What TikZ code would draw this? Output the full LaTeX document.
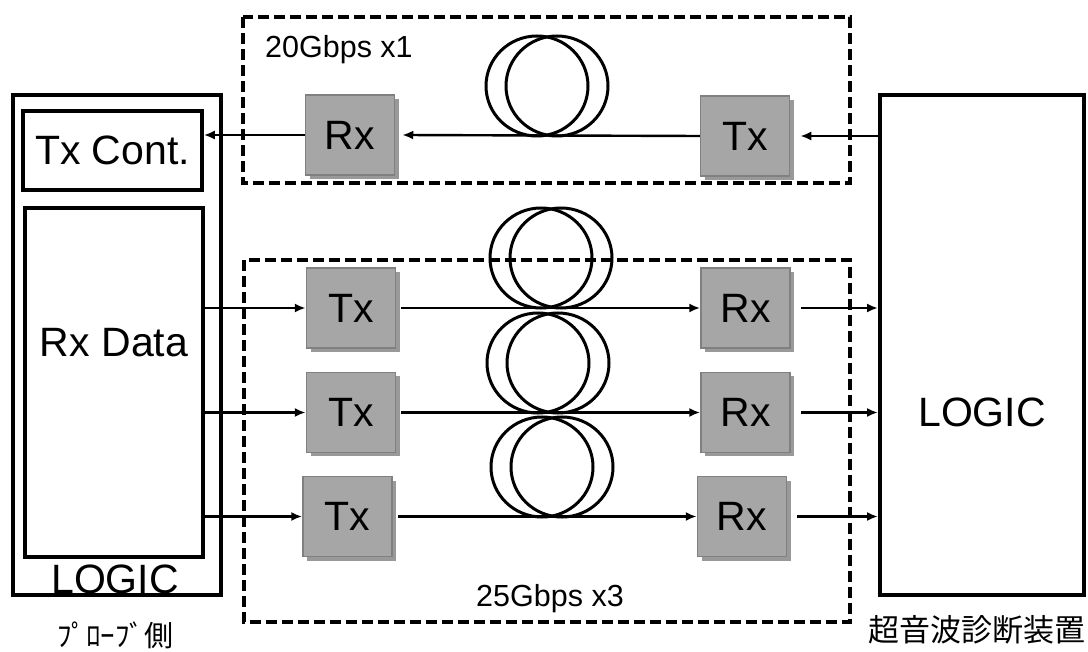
\documentclass[tikz,border=0pt]{standalone}
\usepackage{fontspec}
\setmainfont{Liberation Sans}
\newfontfamily\jpfont{Noto Sans CJK JP}
\usetikzlibrary{arrows.meta,shadows}
\definecolor{modgray}{RGB}{166,166,166}
\definecolor{modedge}{RGB}{128,128,128}
\tikzset{
  blockframe/.style={draw=black,line width=4pt,inner sep=0pt},
  groupframe/.style={draw=black,line width=3.5pt,dash pattern=on 11pt off 5pt},
  biglabel/.style={font=\fontsize{41}{41}\selectfont,inner sep=0pt},
  ratelabel/.style={font=\fontsize{30.5}{30.5}\selectfont,inner sep=0pt},
  trx/.style={fill=modgray,draw=modedge,line width=1.5pt,minimum width=89pt,
    minimum height=80pt,biglabel,
    drop shadow={shadow xshift=4pt,shadow yshift=-4pt,fill=black!40,opacity=1}},
  link/.style={line width=2.4pt,-{Latex[length=11pt,width=9pt]}},
  coil/.style={line width=3pt},
}
\begin{document}
\begin{tikzpicture}[x=1pt,y=-1pt]
  \useasboundingbox (0,0) rectangle (1088,652);
  % link groups
  \draw[groupframe] (243,17) rectangle (850,183);
  \draw[groupframe] (244,260) rectangle (850,622);
  \node[ratelabel,anchor=base west] (rateup) at (265,58) {20Gbps x1};
  \node[ratelabel,anchor=base] (ratedown) at (550,606) {25Gbps x3};
  % fiber coils
  \foreach \cx/\cy in {537/86,541/258,538/363,542/467} {
    \draw[coil] (\cx,\cy) ellipse [x radius=51pt,y radius=50pt];
    \draw[coil] (\cx+20,\cy) ellipse [x radius=51pt,y radius=50pt];
  }
  % probe side
  \node[blockframe,minimum width=208pt,minimum height=500pt] (probe) at (117,345) {};
  \node[blockframe,line width=3.5pt,minimum width=179pt,minimum height=79pt,biglabel] (txcont) at (112.5,150.5) {Tx Cont.};
  \node[blockframe,line width=3.5pt,minimum width=178pt,minimum height=349pt] (rxdata) at (114,382.5) {};
  \node[biglabel] (rxdatatext) at (114,343) {Rx Data};
  \node[biglabel,anchor=base] (probelogic) at (115,593) {LOGIC};
  \node[font=\jpfont\fontsize{29}{29}\selectfont,inner sep=0pt] (probename) at (115,635) {ﾌﾟﾛｰﾌﾞ側};
  % main unit
  \node[blockframe,minimum width=204pt,minimum height=500pt] (unit) at (982,345) {};
  \node[biglabel] (unitlogic) at (982,412) {LOGIC};
  \node[font=\jpfont\fontsize{31}{31}\selectfont,inner sep=0pt] (unitname) at (977,630) {超音波診断装置};
  % optical modules
  \node[trx] (rxup) at (350,135) {Rx};
  \node[trx] (txup) at (745,136) {Tx};
  \foreach \n/\tpos/\rpos/\ypos in {1/351/745.5/308,2/351/745.5/412.5,3/347.5/742/516.5} {
    \node[trx] (tx\n) at (\tpos,\ypos) {Tx};
    \node[trx] (rx\n) at (\rpos,\ypos) {Rx};
  }
  % links
  \draw[link] (unit.west |- txup.east) -- ([xshift=10pt]txup.east);
  \draw[link] (txup.west) -- ([xshift=7pt]rxup.east);
  \draw[link] (rxup.west) -- (txcont.east |- rxup.west);
  \foreach \n in {1,2,3} {
    \draw[link] (rxdata.east |- tx\n.west) -- (tx\n.west);
    \draw[link,shorten <=5pt] (tx\n.east) -- (rx\n.west);
    \draw[link,shorten <=10pt] (rx\n.east) -- (unit.west |- rx\n.east);
  }
\end{tikzpicture}
\end{document}
